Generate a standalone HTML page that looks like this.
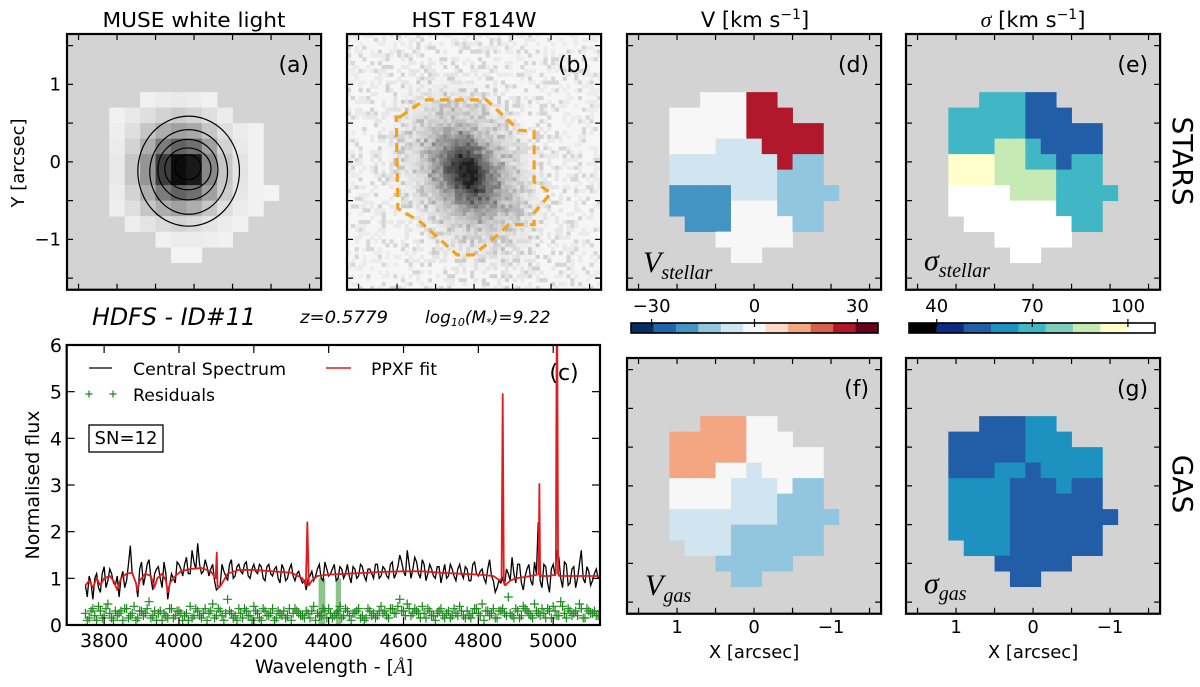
<!DOCTYPE html>
<html><head><meta charset="utf-8"><title>HDFS ID#11</title>
<style>
html,body{margin:0;padding:0;background:#fff;}
svg{display:block;font-family:"DejaVu Sans","Liberation Sans",sans-serif;}
.math{font-family:"Liberation Serif","DejaVu Serif",serif;font-style:italic;}
</style></head>
<body>
<svg id="fig" xmlns="http://www.w3.org/2000/svg" width="1200" height="687" viewBox="0 0 1200 687">
<defs>
<clipPath id="clipc"><rect x="66.7" y="345" width="533.3" height="280"/></clipPath>
<clipPath id="clipb"><rect x="347" y="34" width="254" height="256"/></clipPath>
</defs>
<g id="root"></g>
</svg>
<script>
// ---------------- DATA ----------------
const N = null;
const museFlux = [
 [N,N,0.3,0.5,0.6,0.5,0.3,N,N,N,N],
 [0.3,0.6,1,1.5,1.8,1.5,1,0.5,N,N,N],
 [0.4,1,2,3,3.5,3.2,2,1,0.5,0.3,N],
 [0.5,1.5,3,5,6,5.5,3.5,1.5,0.6,0.3,N],
 [0.6,2,4,7.5,9.5,9,4.5,2,0.8,0.3,N],
 [0.6,2,4,7.5,9.5,9,4.5,2,0.8,0.3,N],
 [0.5,1.5,3,5,6,5.5,3.5,1.8,0.7,0.3,0.2],
 [0.4,1,2,3,3.5,3,2,1,0.5,0.3,N],
 [N,0.4,0.8,1.2,1.5,1.2,0.8,0.5,0.3,N,N],
 [N,N,N,0.3,0.5,0.5,0.4,0.3,N,N,N],
 [N,N,N,N,0.2,0.2,N,N,N,N,N]
];
const contourCx = [0.07,0.07,0.08,0.08,0.08];
const contourCy = [-0.12,-0.13,-0.10,-0.09,-0.07];
const contourRx = [0.66,0.505,0.39,0.30,0.17];
const contourRy = [0.71,0.546,0.39,0.27,0.16];
const apertureX = [0.96,0.64,-0.16,-0.58,-0.78,-0.78,-1.0,-0.78,-0.78,-0.45,-0.23,0.01,0.22,0.69,0.99,1.01];
const apertureY = [0.58,0.80,0.80,0.41,0.39,-0.26,-0.40,-0.66,-0.81,-0.81,-1.01,-1.20,-1.20,-0.78,-0.60,0.58];
const vStellar = [
 [N,N,0,0,0,26,26,N,N,N,N],
 [0,0,0,0,0,26,26,26,N,N,N],
 [0,0,0,0,0,26,26,26,26,26,N],
 [0,0,0,-6,-6,-6,26,26,26,26,N],
 [-6,-6,-6,-6,-6,-6,-6,26,-13,-13,N],
 [-6,-6,-6,-6,-6,-6,-6,-13,-13,-13,N],
 [-20,-20,-20,-20,-6,-6,-6,-13,-13,-13,-13],
 [-20,-20,-20,-20,0,0,0,-13,-13,-13,N],
 [N,-20,-20,-20,0,0,0,0,-13,-13,N],
 [N,N,N,0,0,0,0,0,N,N,N],
 [N,N,N,N,0,0,N,N,N,N,N]
];
const sStellar = [
 [N,N,70,70,70,53,53,N,N,N,N],
 [70,70,70,70,70,53,53,53,N,N,N],
 [70,70,70,70,70,53,53,53,53,53,N],
 [70,70,70,87,87,70,53,53,53,53,N],
 [95,95,95,87,87,70,70,53,70,70,N],
 [95,95,95,87,87,87,87,70,70,70,N],
 [104,104,104,104,87,87,87,70,70,70,70],
 [104,104,104,104,104,104,104,70,70,70,N],
 [N,104,104,104,104,104,104,104,70,70,N],
 [N,N,N,104,104,104,104,104,N,N,N],
 [N,N,N,N,104,104,N,N,N,N,N]
];
const vGas = [
 [N,N,13,13,13,0,0,N,N,N,N],
 [13,13,13,13,13,0,0,0,N,N,N],
 [13,13,13,13,13,0,0,0,0,0,N],
 [13,13,13,0,0,-6,0,0,0,0,N],
 [0,0,0,0,-6,-6,-6,0,-13,-13,N],
 [0,0,0,0,-6,-6,-6,-13,-13,-13,N],
 [-6,-6,-6,-6,-6,-6,-6,-13,-13,-13,-13],
 [-6,-6,-6,-6,-13,-13,-13,-13,-13,-13,N],
 [N,-6,-6,-6,-13,-13,-13,-13,-13,-13,N],
 [N,N,N,-13,-13,-13,-13,-13,N,N,N],
 [N,N,N,N,-13,-13,N,N,N,N,N]
];
const sGas = [
 [N,N,53,53,53,61,61,N,N,N,N],
 [53,53,53,53,53,61,61,61,N,N,N],
 [53,53,53,53,53,61,61,61,61,61,N],
 [53,53,53,61,61,53,61,61,61,61,N],
 [61,61,61,61,53,53,53,61,53,53,N],
 [61,61,61,61,53,53,53,53,53,53,N],
 [61,61,61,61,53,53,53,53,53,53,53],
 [61,61,61,61,53,53,53,53,53,53,N],
 [N,61,61,61,53,53,53,53,53,53,N],
 [N,N,N,53,53,53,53,53,N,N,N],
 [N,N,N,N,53,53,N,N,N,N,N]
];
const vColors = ['#053061','#2166ac','#4393c3','#92c5de','#d1e5f0','#f7f7f7','#fddbc7','#f4a582','#d6604d','#b2182b','#67001f'];
const sColors = ['#000000','#0c2c84','#225ea8','#1d91c0','#41b6c4','#7fcdbb','#c7e9b4','#ffffcc','#ffffff'];
const vTicks = [-30,0,30];
const sTicks = [40,70,100];
const mapTicks = [-1,0,1];
const mapTickLabels = ['\u22121','0','1'];
// (c) spectrum: samples at specStart + i*specStep (A) and half-step offsets (B)
const specStart = 3750, specStep = 10;
const obsFlux = [0.85,1.05,0.55,1.1,0.7,1.25,0.95,1.1,0.85,0.6,1.15,0.95,1.7,1.0,0.6,1.35,1.05,1.4,0.75,1.2,1.0,1.35,0.55,1.1,0.9,1.3,1.05,1.45,1.1,1.35,1.75,1.1,1.4,1.05,1.3,0.75,0.85,1.15,0.95,1.4,1.05,1.3,1.1,1.35,1.0,1.3,1.1,1.25,0.95,1.3,1.05,1.25,0.9,1.2,1.0,1.3,0.95,1.15,0.9,0.75,1.05,0.95,1.2,1.0,1.35,1.05,1.2,0.95,1.25,1.0,1.3,0.9,1.2,1.05,1.25,0.95,1.2,1.0,1.3,1.05,1.2,1.0,1.35,1.1,1.5,1.15,1.6,1.0,1.45,1.1,1.4,0.95,1.3,1.05,1.25,0.9,1.3,1.05,1.2,0.95,1.3,1.0,1.2,0.95,1.35,1.05,1.2,0.9,1.4,0.95,0.8,0.9,0.85,1.1,1.45,0.9,1.3,0.75,1.2,0.95,1.35,2.2,0.8,1.25,0.7,1.3,1.6,1.0,1.35,0.85,1.2,0.8,1.3,1.0,1.25,0.85,1.1,1.0];
const obsFluxB = [0.6,0.9,1.0,0.8,1.1,0.8,1.2,0.9,1.05,1.0,0.8,1.3,1.1,0.9,1.2,0.85,1.3,1.0,1.1,1.25,0.8,1.1,0.85,1.0,1.35,1.2,1.3,1.1,1.6,1.2,1.3,1.15,1.25,1.2,0.95,0.8,1.3,1.05,1.3,1.0,1.25,1.15,1.3,1.05,1.2,1.15,1.3,1.0,1.25,1.1,1.2,1.0,1.3,0.95,1.2,1.05,1.1,1.0,0.95,1.0,1.15,1.05,1.3,0.95,1.2,1.1,1.3,1.0,1.2,1.1,1.05,1.25,1.0,1.3,1.05,1.2,1.1,1.3,1.0,1.25,1.05,1.3,1.0,1.25,1.35,1.05,1.3,1.2,1.35,1.0,1.3,1.1,1.2,1.0,1.25,1.1,1.0,1.3,1.05,1.2,1.1,1.25,0.95,1.3,1.1,1.15,1.0,1.2,1.05,0.7,0.95,1.0,1.2,0.95,1.1,1.3,0.9,1.05,1.3,0.85,1.1,0.95,1.3,0.9,1.2,1.05,1.45,0.8,1.3,0.9,1.25,1.0,1.6,0.9,1.15,0.95,1.2,1.0];
const fitWave = [3750,3760,3770,3780,3790,3800,3815,3825,3835,3845,3860,3875,3885,3889,3895,3910,3925,3934,3942,3955,3965,3970,3976,3990,4005,4030,4060,4085,4098,4101,4103,4106,4112,4130,4160,4200,4250,4300,4330,4339,4343,4347,4355,4370,4400,4450,4500,4550,4600,4650,4700,4750,4800,4840,4858,4862,4865,4868,4872,4885,4900,4940,4958,4961,4963,4965,4968,4990,5004,5007,5010,5013,5016,5050,5100,5122];
const fitFlux = [0.85,0.95,0.8,1.0,0.85,1.0,1.05,0.95,0.75,1.0,1.1,1.12,0.9,0.75,0.95,1.1,1.05,0.8,1.0,1.1,0.95,0.7,0.9,1.05,1.15,1.2,1.22,1.15,1.0,1.55,0.85,0.8,0.85,1.1,1.18,1.18,1.15,1.12,1.0,0.85,2.2,0.85,0.95,1.05,1.08,1.1,1.12,1.14,1.15,1.15,1.12,1.1,1.08,1.05,0.95,1.0,4.95,0.95,0.85,0.95,1.0,1.05,1.08,1.1,3.02,1.1,1.05,1.05,1.08,1.1,8.0,1.1,1.05,1.05,1.05,1.05];
const residFlux = [.25,.15,.35,.1,.3,.2,.45,.15,.3,.25,.1,.35,.2,.4,.15,.3,.25,.5,.2,.1,.3,.25,.15,.35,.2,.3,.1,.25,.4,.2,.3,.15,.35,.25,.45,.2,.3,.1,.55,.25,.2,.35,.15,.3,.2,.4,.25,.1,.3,.2,.35,.15,.25,.3,.2,.1,.35,.25,.2,.3,.15,.4,.25,.2,.3,.35,.15,.25,.4,.2,.3,.1,.25,.35,.2,.15,.3,.25,.2,.4,.3,.15,.35,.25,.55,.3,.45,.2,.35,.25,.4,.15,.3,.2,.25,.35,.15,.3,.2,.25,.4,.2,.3,.15,.35,.25,.45,.3,.2,.35,.15,.3,.25,.6,.2,.35,.15,.4,.3,.2,.45,.25,.35,.15,.3,.4,.2,.5,.25,.35,.2,.3,.45,.15,.35,.25,.3,.2];
const residFluxB = [.1,.3,.2,.4,.15,.35,.25,.1,.2,.3,.35,.15,.25,.1,.3,.2,.35,.15,.3,.25,.1,.2,.35,.15,.3,.25,.2,.1,.15,.35,.2,.25,.1,.3,.15,.35,.2,.25,.3,.15,.1,.25,.35,.2,.1,.3,.15,.35,.2,.25,.1,.3,.2,.15,.35,.25,.3,.2,.15,.25,.3,.1,.2,.35,.15,.25,.2,.3,.15,.35,.2,.25,.3,.15,.1,.35,.2,.15,.3,.25,.2,.35,.25,.4,.3,.2,.35,.25,.3,.15,.25,.35,.2,.1,.3,.2,.25,.15,.35,.2,.3,.15,.2,.25,.35,.2,.1,.3,.25,.15,.3,.35,.2,.25,.15,.3,.2,.35,.25,.15,.3,.2,.25,.35,.15,.3,.2,.4,.15,.3,.25,.2,.35,.15,.3,.25,.2,.3];
const maskStart = [4373,4419];
const maskEnd = [4391,4433];
const specXTicks = [3800,4000,4200,4400,4600,4800,5000];
const specYTicks = [0,1,2,3,4,5,6];

// ---------------- HELPERS ----------------
const NS = 'http://www.w3.org/2000/svg';
const root = document.getElementById('root');
function mk(tag, attrs, parent){
  const e = document.createElementNS(NS, tag);
  for (const k in attrs) e.setAttribute(k, attrs[k]);
  (parent || root).appendChild(e);
  return e;
}
function txt(s, attrs, parent){
  const e = mk('text', attrs, parent);
  e.textContent = s;
  return e;
}
function colorOf(v, cols, vmin, vmax){
  let i = Math.floor((v - vmin) / (vmax - vmin) * cols.length);
  i = Math.max(0, Math.min(cols.length - 1, i));
  return cols[i];
}
const AX = 77, AY = 77.5, LIM = 1.65;

function mapPanel(name, x0, y0, bg){
  const g = mk('g', {});
  
  
  const sx = a => x0 + (LIM - a) * AX;
  const sy = a => y0 + (LIM - a) * AY;
  const bgr = mk('rect', {x:x0, y:y0, width:2*LIM*AX, height:2*LIM*AY, fill:bg}, g);
  
  
  return {g, sx, sy, x0, y0};
}
function drawGrid(p, grid, colorFn, name){
  for (let r = 0; r < grid.length; r++){
    for (let c = 0; c < grid[r].length; c++){
      const v = grid[r][c];
      if (v === null) continue;
      const xa = 1.1 - 0.2 * c, ya = 0.9 - 0.2 * r;
      const x1 = p.sx(xa), x2 = p.sx(xa - 0.2), y1 = p.sy(ya), y2 = p.sy(ya - 0.2);
      const rc = mk('rect', {x:x1, y:y1, width:x2 - x1 + 0.4, height:y2 - y1 + 0.4, fill:colorFn(v)}, p.g);
      
      
    }
  }
}
function frame(p, name, opts){
  const g = p.g;
  const W = 2*LIM*AX, H = 2*LIM*AY;
  const ticks = [-1.5,-1,-0.5,0,0.5,1,1.5];
  ticks.forEach(t => {
    const x = p.sx(t), y = p.sy(t);
    const a = mk('line', {x1:x, x2:x, y1:p.y0, y2:p.y0 + 6, stroke:'#000', 'stroke-width':1.2}, g);
     
    const b = mk('line', {x1:x, x2:x, y1:p.y0 + H, y2:p.y0 + H - 6, stroke:'#000', 'stroke-width':1.2}, g);
     
    const c = mk('line', {x1:p.x0, x2:p.x0 + 6, y1:y, y2:y, stroke:'#000', 'stroke-width':1.2}, g);
     
    const d = mk('line', {x1:p.x0 + W, x2:p.x0 + W - 6, y1:y, y2:y, stroke:'#000', 'stroke-width':1.2}, g);
     
  });
  const fr = mk('rect', {x:p.x0, y:p.y0, width:W, height:H, fill:'none', stroke:'#000', 'stroke-width':2.2}, g);
  
  
  if (opts.ylabels){
    mapTicks.forEach((t, i) => {
      const l = txt(mapTickLabels[i], {x:p.x0 - 6, y:p.sy(t) + 6, 'font-size':18, 'text-anchor':'end'}, g);
       
    });
  }
  if (opts.xlabels){
    mapTicks.forEach((t, i) => {
      const l = txt(mapTickLabels[i], {x:p.sx(t), y:p.y0 + H + 19, 'font-size':18, 'text-anchor':'middle'}, g);
       
    });
    const xl = txt('X [arcsec]', {x:p.x0 + W/2, y:p.y0 + H + 44, 'font-size':18, 'text-anchor':'middle'}, g);
     
  }
  if (opts.letter){
    const l = txt(opts.letter, {x:p.x0 + W - 12, y:p.y0 + 38, 'font-size':22, 'text-anchor':'end'}, g);
     
  }
}

// ---------------- TITLES ----------------
const t1 = txt('MUSE white light', {x:194, y:27, 'font-size':20, 'text-anchor':'middle', textLength:183, lengthAdjust:'spacingAndGlyphs'});
 
const t2 = txt('HST F814W', {x:474, y:27, 'font-size':20, 'text-anchor':'middle', textLength:125, lengthAdjust:'spacingAndGlyphs'});
 
const t3 = mk('text', {x:755, y:27, 'font-size':21, 'text-anchor':'middle'});
t3.innerHTML = 'V [km s<tspan dy="-8" font-size="14">\u22121</tspan><tspan dy="8">]</tspan>';
 
const t4 = mk('text', {x:1033, y:27, 'font-size':21, 'text-anchor':'middle'});
t4.innerHTML = '<tspan class="math" font-size="22">\u03c3</tspan> [km s<tspan dy="-8" font-size="14">\u22121</tspan><tspan dy="8">]</tspan>';
 

// ---------------- (a) MUSE ----------------
const pa = mapPanel('muse-panel', 67, 34, '#d3d3d3');
drawGrid(pa, museFlux, f => { const v = Math.round(248 * (1 - f / 10)); return 'rgb(' + v + ',' + v + ',' + v + ')'; }, 'muse');
for (let i = 0; i < contourCx.length; i++){
  const e = mk('ellipse', {cx:pa.sx(contourCx[i]), cy:pa.sy(contourCy[i]), rx:contourRx[i]*AX, ry:contourRy[i]*AY, fill:'none', stroke:'#000', 'stroke-width':1.2}, pa.g);
  
  
}
frame(pa, 'muse-panel', {ylabels:true, letter:'(a)'});
const yl = txt('Y [arcsec]', {x:0, y:0, 'font-size':18, 'text-anchor':'middle', transform:'translate(24,163) rotate(-90)'});
 

// ---------------- (b) HST ----------------
const pb = mapPanel('hst-panel', 347, 34, '#f6f6f6');
(function(){
  let seed = 12345;
  const rnd = () => { seed = (seed * 1103515245 + 12345) % 2147483648; return seed / 2147483648; };
  const cell = 0.05;
  const gx = 0.09, gy = -0.14, ang = 30 * Math.PI / 180;
  const img = mk('g', {'clip-path':'url(#clipb)'}, pb.g);
  
  
  for (let yy = LIM; yy > -LIM; yy -= cell){
    for (let xx = LIM; xx > -LIM; xx -= cell){
      const cxa = xx - cell/2, cya = yy - cell/2;
      const dx = cxa - gx, dy = cya - gy;
      const u = dx * Math.cos(ang) - dy * Math.sin(ang);
      const v = dx * Math.sin(ang) + dy * Math.cos(ang);
      const core = 150 * Math.exp(-0.5 * ((u/0.2)*(u/0.2) + (v/0.3)*(v/0.3)));
      const halo = 75 * Math.exp(-0.5 * ((u/0.45)*(u/0.45) + (v/0.65)*(v/0.65)));
      let n = rnd();
      let base = n < 0.6 ? 252 : (n < 0.88 ? 236 : 215);
      let val = Math.max(30, Math.round(base - core - halo * (0.7 + 0.6 * rnd())));
      if (val > 246) continue;
      mk('rect', {x:pb.sx(xx), y:pb.sy(yy), width:cell*AX + 0.3, height:cell*AY + 0.3, fill:'rgb(' + val + ',' + val + ',' + val + ')'}, img);
    }
  }
})();
const apPts = apertureX.map((x, i) => pb.sx(x) + ',' + pb.sy(apertureY[i])).join(' ');
const ap = mk('polygon', {points:apPts, fill:'none', stroke:'#f5a21b', 'stroke-width':3.2, 'stroke-dasharray':'9,6'}, pb.g);


frame(pb, 'hst-panel', {letter:'(b)'});

// ---------------- info line ----------------
const id1 = txt('HDFS - ID#11', {x:174, y:325, 'font-size':24, 'font-style':'italic', 'text-anchor':'middle', textLength:164, lengthAdjust:'spacingAndGlyphs'});
 
const zt = txt('z=0.5779', {x:344, y:323, 'font-size':17, 'font-style':'italic', 'text-anchor':'middle', textLength:88, lengthAdjust:'spacingAndGlyphs'});
 
const mt = mk('text', {x:425, y:323, 'font-size':17, 'font-style':'italic'});
mt.innerHTML = 'log<tspan font-size="11" dy="3">10</tspan><tspan dy="-3">(M</tspan><tspan font-size="11" dy="3">*</tspan><tspan dy="-3">)=9.22</tspan>';
 

// ---------------- (d)-(g) maps ----------------
const vFn = v => colorOf(v, vColors, -36, 36);
const sFn = v => colorOf(v, sColors, 31.3, 108.5);
const pd = mapPanel('stellar-velocity-panel', 627, 34, '#d3d3d3');
drawGrid(pd, vStellar, vFn, 'stellar-velocity');
frame(pd, 'stellar-velocity-panel', {letter:'(d)'});
const pe = mapPanel('stellar-dispersion-panel', 906, 34, '#d3d3d3');
drawGrid(pe, sStellar, sFn, 'stellar-dispersion');
frame(pe, 'stellar-dispersion-panel', {letter:'(e)'});
const pf = mapPanel('gas-velocity-panel', 627, 358, '#d3d3d3');
drawGrid(pf, vGas, vFn, 'gas-velocity');
frame(pf, 'gas-velocity-panel', {letter:'(f)', xlabels:true});
const pg = mapPanel('gas-dispersion-panel', 906, 358, '#d3d3d3');
drawGrid(pg, sGas, sFn, 'gas-dispersion');
frame(pg, 'gas-dispersion-panel', {letter:'(g)', xlabels:true});

function mathLabel(x, y, main, sub, name){
  const t = mk('text', {x:x, y:y, 'font-size':30, class:'math'});
  t.innerHTML = main + '<tspan font-size="20" dy="7">' + sub + '</tspan>';
  
  
}
mathLabel(643, 272, 'V', 'stellar', 'stellar-velocity-label');
mathLabel(924, 270, '\u03c3', 'stellar', 'stellar-dispersion-label');
mathLabel(645, 595, 'V', 'gas', 'gas-velocity-label');
mathLabel(924, 593, '\u03c3', 'gas', 'gas-dispersion-label');

const st = txt('STARS', {x:0, y:0, 'font-size':28, 'text-anchor':'middle', transform:'translate(1173,161) rotate(90)'});
 
const ga = txt('GAS', {x:0, y:0, 'font-size':28, 'text-anchor':'middle', transform:'translate(1173,484) rotate(90)'});
 

// ---------------- colorbars ----------------
function colorbar(name, x0, x1, vmin, vmax, cols, ticks){
  const g = mk('g', {});
  
  
  const sc = v => x0 + (v - vmin) / (vmax - vmin) * (x1 - x0);
  const step = (vmax - vmin) / cols.length;
  cols.forEach((c, i) => {
    const a = sc(vmin + i * step), b = sc(vmin + (i + 1) * step);
    const r = mk('rect', {x:a, y:323, width:b - a + 0.3, height:10, fill:c}, g);
    
    
  });
  const fr = mk('rect', {x:x0, y:323, width:x1 - x0, height:10, fill:'none', stroke:'#000', 'stroke-width':1.6}, g);
   
  ticks.forEach(t => {
    const tk = mk('line', {x1:sc(t), x2:sc(t), y1:319, y2:327, stroke:'#000', 'stroke-width':1.2}, g);
     
    const l = txt(t < 0 ? '\u2212' + Math.abs(t) : String(t), {x:sc(t), y:312, 'font-size':18, 'text-anchor':'middle'}, g);
     
  });
}
colorbar('velocity-colorbar', 631, 878, -36, 36, vColors, vTicks);
colorbar('dispersion-colorbar', 909, 1155, 31.3, 108.5, sColors, sTicks);

// ---------------- (c) spectrum ----------------
const cx0 = 66.7, cx1 = 600, cy0 = 345, cy1 = 625;
const wx = w => cx0 + (w - 3700) / (5125 - 3700) * (cx1 - cx0);
const fy = f => cy1 - f / 6 * (cy1 - cy0);
const gc = mk('g', {});


const plot = mk('g', {'clip-path':'url(#clipc)'}, gc);


maskStart.forEach((s, i) => {
  const r = mk('rect', {x:wx(s), y:fy(1.0), width:wx(maskEnd[i]) - wx(s), height:fy(0) - fy(1.0), fill:'#5aa95a', 'fill-opacity':0.7}, plot);
  
  
});
const residG = mk('g', {stroke:'#1a8a1a', 'stroke-width':1.2}, plot);


function plus(x, y){
  const p = mk('path', {d:'M' + (x - 4.5) + ' ' + y + 'H' + (x + 4.5) + 'M' + x + ' ' + (y - 4.5) + 'V' + (y + 4.5), fill:'none'}, residG);
  
  
}
residFlux.forEach((f, i) => plus(wx(specStart + i * specStep), fy(f)));
residFluxB.forEach((f, i) => plus(wx(specStart + specStep / 2 + i * specStep), fy(f)));
const obsWave = [], obsVals = [];
for (let i = 0; i < Math.max(obsFlux.length, obsFluxB.length); i++){
  if (i < obsFlux.length){ obsWave.push(specStart + i * specStep); obsVals.push(obsFlux[i]); }
  if (i < obsFluxB.length){ obsWave.push(specStart + specStep / 2 + i * specStep); obsVals.push(obsFluxB[i]); }
}
const obsPts = obsVals.map((f, i) => wx(obsWave[i]).toFixed(2) + ',' + fy(f).toFixed(2)).join(' ');
const obs = mk('polyline', {points:obsPts, fill:'none', stroke:'#000', 'stroke-width':1.3}, plot);


const fitPts = fitWave.map((w, i) => wx(w).toFixed(2) + ',' + fy(fitFlux[i]).toFixed(2)).join(' ');
const fit = mk('polyline', {points:fitPts, fill:'none', stroke:'#e41a1c', 'stroke-width':1.8, 'stroke-linejoin':'round'}, plot);


specXTicks.forEach(t => {
  const x = wx(t);
  const a = mk('line', {x1:x, x2:x, y1:cy1, y2:cy1 - 8, stroke:'#000', 'stroke-width':1.2}, gc);
   
  const b = mk('line', {x1:x, x2:x, y1:cy0, y2:cy0 + 8, stroke:'#000', 'stroke-width':1.2}, gc);
   
  const l = txt(String(t), {x:x, y:647, 'font-size':19, 'text-anchor':'middle'}, gc);
   
});
specYTicks.forEach(t => {
  const y = fy(t);
  const a = mk('line', {x1:cx0, x2:cx0 + 8, y1:y, y2:y, stroke:'#000', 'stroke-width':1.2}, gc);
   
  const b = mk('line', {x1:cx1, x2:cx1 - 8, y1:y, y2:y, stroke:'#000', 'stroke-width':1.2}, gc);
   
  const l = txt(String(t), {x:62, y:y + 7, 'font-size':19, 'text-anchor':'end'}, gc);
   
});
const cfr = mk('rect', {x:cx0, y:cy0, width:cx1 - cx0, height:cy1 - cy0, fill:'none', stroke:'#000', 'stroke-width':2.2}, gc);
 
const cl = txt('(c)', {x:564, y:380, 'font-size':22, 'text-anchor':'middle'}, gc);
 
const xt = mk('text', {x:334, y:673, 'font-size':19, 'text-anchor':'middle'}, gc);
xt.innerHTML = 'Wavelength - [<tspan class="math">\u00c5</tspan>]';
 
const ytl = txt('Normalised flux', {x:0, y:0, 'font-size':19, 'text-anchor':'middle', transform:'translate(39,485) rotate(-90)'}, gc);
 
const lg = mk('g', {}, gc);


const l1 = mk('line', {x1:89, x2:112, y1:368, y2:368, stroke:'#000', 'stroke-width':1.3}, lg);
 
const l1t = txt('Central Spectrum', {x:133, y:375, 'font-size':17, textLength:153, lengthAdjust:'spacingAndGlyphs'}, lg);
 
const l2 = mk('line', {x1:326, x2:351, y1:368, y2:368, stroke:'#e41a1c', 'stroke-width':1.6}, lg);
 
const l2t = txt('PPXF fit', {x:371, y:375, 'font-size':17, textLength:66, lengthAdjust:'spacingAndGlyphs'}, lg);
 
[89, 113].forEach(x => {
  const p = mk('path', {d:'M' + (x - 3.5) + ' 394H' + (x + 3.5) + 'M' + x + ' 390.5V397.5', stroke:'#1a8a1a', 'stroke-width':1.2, fill:'none'}, lg);
   
});
const l3t = txt('Residuals', {x:133, y:401, 'font-size':17, textLength:82, lengthAdjust:'spacingAndGlyphs'}, lg);
 
const snb = mk('rect', {x:89, y:425, width:74, height:27, fill:'#fff', stroke:'#000', 'stroke-width':1.3}, gc);
 
const snt = txt('SN=12', {x:126, y:444, 'font-size':18, 'text-anchor':'middle'}, gc);
 
</script>
</body></html>
